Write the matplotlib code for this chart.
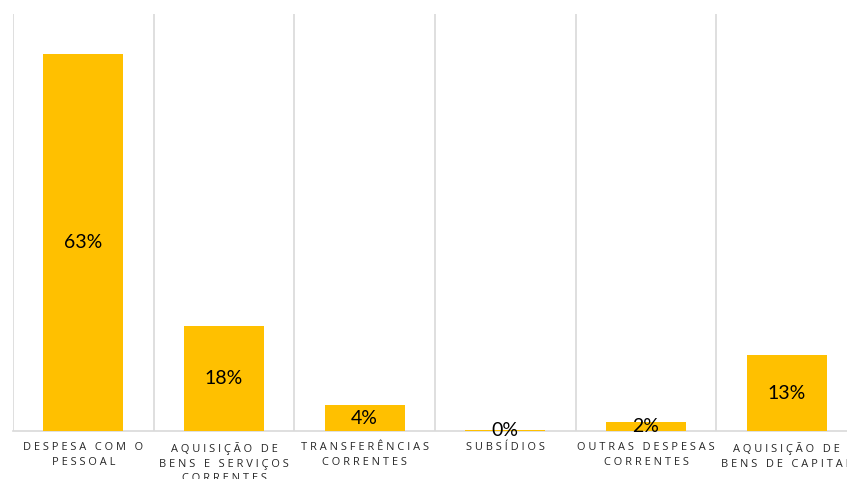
import matplotlib
matplotlib.use("Agg")
import matplotlib.pyplot as plt
import numpy as np

categories = [
    "DESPESA COM O\nPESSOAL",
    "AQUISIÇÃO DE\nBENS E SERVIÇOS\nCORRENTES",
    "TRANSFERÊNCIAS\nCORRENTES",
    "SUBSÍDIOS",
    "OUTRAS DESPESAS\nCORRENTES",
    "AQUISIÇÃO DE\nBENS DE CAPITAL",
]
values = [63.3, 17.6, 4.3, 0.2, 1.5, 12.7]
value_labels = ["63%", "18%", "4%", "0%", "2%", "13%"]

def spaced(s):
    lines = []
    for line in s.split("\n"):
        words = [" ".join(list(w)) for w in line.split(" ")]
        lines.append("   ".join(words))
    return "\n".join(lines)

fig = plt.figure(figsize=(8.47, 4.79), dpi=100)
ax = fig.add_axes([13/847, (479-431)/479, 844/847, (431-14)/479])

x = np.arange(len(categories))
bars = ax.bar(x, values, width=0.57, color="#FFC000", zorder=3)

ax.set_xlim(-0.5, len(categories) - 0.5)
ax.set_ylim(0, 70)

# vertical gridlines at category boundaries
for b in np.arange(-0.5, len(categories) + 0.5, 1.0):
    ax.axvline(b, color="#D9D9D9", lw=1.2, zorder=1)

for spine in ["top", "right", "left"]:
    ax.spines[spine].set_visible(False)
ax.spines["bottom"].set_color("#D9D9D9")
ax.spines["bottom"].set_linewidth(1.2)
ax.set_yticks([])
ax.set_xticks(x)
ax.set_xticklabels([spaced(c) for c in categories], fontsize=7.9,
                   color="#262626", family=["Open Sans", "DejaVu Sans"],
                   linespacing=1.45)
ax.tick_params(axis="x", length=0, pad=8)

for xi, v, lab in zip(x, values, value_labels):
    ax.text(xi, v / 2, lab, ha="center", va="center", fontsize=14,
            family=["Lato", "DejaVu Sans"], color="#000000", zorder=4)

fig.savefig("out.png", dpi=100)
